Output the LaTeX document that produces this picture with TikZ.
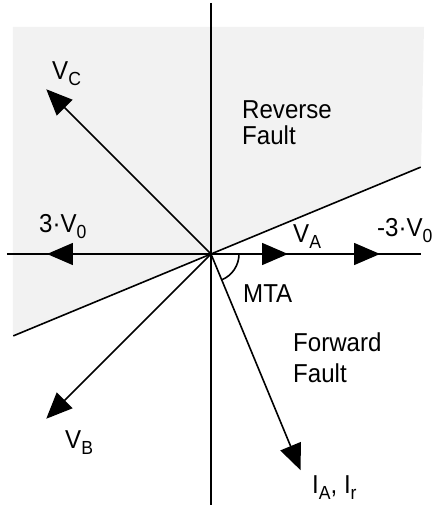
\documentclass[tikz,border=0pt]{standalone}
\usepackage{fontspec}
\setmainfont{Liberation Sans}
\newfontfamily\lblfont[FakeStretch=0.93]{Liberation Sans}
\usetikzlibrary{arrows.meta}
\newcommand{\subtxt}[1]{\raisebox{-6bp}{\fontsize{19}{19}\selectfont #1}}

\begin{document}
\begin{tikzpicture}[
    x=1bp, y=1bp,
    axis/.style={line width=1.6bp},
    vec/.style={line width=1.6bp, -{Triangle[length=26bp, width=22bp]}},
    lbl/.style={inner sep=0pt, anchor=base west, font=\lblfont\fontsize{26}{26}\selectfont},
    blk/.style={inner sep=0pt, anchor=west, align=left}
  ]
    \useasboundingbox (-211,-254) rectangle (221,254);
    \coordinate (O) at (0,0);

    % reverse fault region
    \fill[black!5] (-198,227) -- (213,227) -- (210,87) -- (O) -- (-198,-82) -- cycle;

    % axes and boundary
    \coordinate (top) at (0,251);
    \coordinate (bot) at (0,-251);
    \coordinate (lft) at (-204,0);
    \coordinate (rgt) at (210,0);
    \coordinate (bndA) at (22.5:227);
    \coordinate (bndB) at (202.5:214);
    \draw[axis] (top) -- (bot);
    \draw[axis] (lft) -- (rgt);
    \draw[axis] (bndB) -- (bndA);

    % phasors
    \coordinate (VC) at (135:233);
    \coordinate (VB) at (225:233);
    \coordinate (IA) at (-67.5:234);
    \coordinate (Vpos) at (-164,0);
    \coordinate (Vneg) at (169,0);
    \coordinate (VA) at (77,0);
    \draw[vec] (O) -- (VC);
    \draw[vec] (O) -- (VB);
    \draw[vec] (O) -- (IA);
    \draw[vec] (O) -- (Vpos);
    \draw[vec] (O) -- (Vneg);
    \draw[vec] (O) -- (VA);

    % MTA angle
    \draw[axis] (28,0) arc[start angle=0, end angle=-67.5, radius=28];

    \node[lbl] (lVC) at (-159,174) {V\subtxt{C}};
    \node[lbl] (l3V) at (-172,21) {3·V\subtxt{0}};
    \node[lbl] (lm3V) at (166,17) {-3·V\subtxt{0}};
    \node[lbl] (lVA) at (82,11) {V\subtxt{A}};
    \node[lbl] (mta) at (32,-49) {MTA};
    \node[lbl] (lVB) at (-146,-194) {V\subtxt{B}};
    \node[lbl] (lIA) at (101,-239) {I\subtxt{A}, I\subtxt{r}};
    \node[blk, font=\lblfont\fontsize{26}{26}\selectfont] (rev) at (31,131) {Reverse\\Fault};
    \node[blk, font=\lblfont\fontsize{26}{31}\selectfont] (fwd) at (82,-104) {Forward\\Fault};
  \end{tikzpicture}
\end{document}
